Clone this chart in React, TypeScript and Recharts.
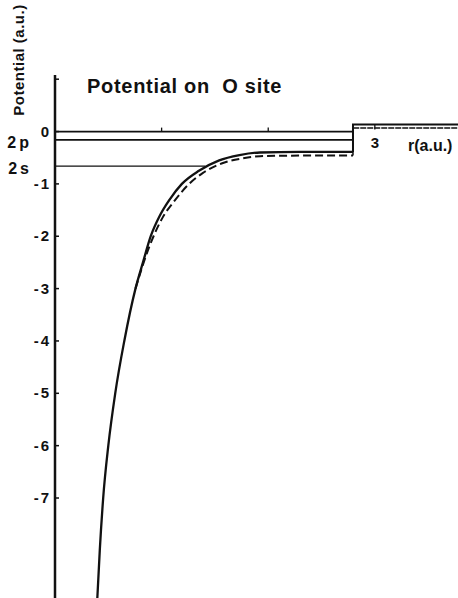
import React from "react";
import { LineChart, Line, XAxis, YAxis, ReferenceLine } from "recharts";

// r in a.u., potential in a.u.
const solidR = [0.397, 0.42, 0.452, 0.5, 0.565, 0.65, 0.755, 0.825, 0.898, 0.985, 1.075, 1.19, 1.35, 1.54, 1.73, 1.923, 2.298, 2.795];
const solidV = [-8.91, -8.0, -7.0, -6.0, -5.0, -4.0, -3.0, -2.5, -2.0, -1.6, -1.3, -1.0, -0.75, -0.55, -0.45, -0.4, -0.39, -0.39];

const dashedR = [0.755, 0.832, 0.91, 1.013, 1.126, 1.248, 1.388, 1.576, 1.764, 1.923, 2.3, 2.795];
const dashedV = [-3.0, -2.5, -2.07, -1.63, -1.31, -1.02, -0.79, -0.6, -0.51, -0.47, -0.46, -0.46];

const sphereRadius = 2.795;
const rMax = 3.78;
const interstitialSolid = 0.135;
const interstitialDashed = 0.07;

const levelNames = ["2p", "2s"];
const levelValues = [-0.16, -0.66];
const levelEnds = [2.795, 1.41];

const yTicks = [1, 0, -1, -2, -3, -4, -5, -6, -7];
const yLabels = ["", "0", "-1", "-2", "-3", "-4", "-5", "-6", "-7"];
const xTicks = [1, 2, 3];
const xLabels = ["", "", "3"];

const zip = (rs: number[], vs: number[]) => rs.map((r, i) => ({ r, v: vs[i] }));

const solidData = zip(solidR, solidV);
const dashedData = zip(dashedR, dashedV);
const solidStep = [
   { r: sphereRadius, v: solidV[solidV.length - 1] },
   { r: sphereRadius, v: interstitialSolid },
   { r: rMax, v: interstitialSolid },
];
const dashedStep = [
   { r: sphereRadius, v: dashedV[dashedV.length - 1] },
   { r: sphereRadius, v: interstitialDashed },
   { r: rMax, v: interstitialDashed },
];

const INK = "#111";
const FONT = "'Liberation Sans', Arial, sans-serif";

const YTick = (props: any) => {
   const { x, y, payload } = props;
   const idx = yTicks.indexOf(payload.value);
   return (
      <g>
         <line x1={x + 4} x2={x + 8} y1={y} y2={y} stroke={INK} strokeWidth={1.5} />
         <text
            x={x}
            y={y}
            dy={5}
            textAnchor="end"
            fontFamily={FONT}
            fontWeight="bold"
            fontSize={15}
            letterSpacing={2}
            fill={INK}
         >
            {yLabels[idx]}
         </text>
      </g>
   );
};

const levelLabel = (name: string) => (props: any) => {
   const vb = props.viewBox || {};
   return (
      <text
         x={vb.x - 23}
         y={vb.y + 8}
         textAnchor="end"
         fontFamily={FONT}
         fontWeight="bold"
         fontSize={16}
         letterSpacing={3}
         fill={INK}
      >
         {name}
      </text>
   );
};

export default function App() {
   return (
      <div style={{ position: "absolute", left: 0, top: 0, width: 458, height: 598, background: "#fff" }}>
         <LineChart
            width={458}
            height={598}
            margin={{ top: 75, right: 0, bottom: 0, left: 0 }}
         >
            <XAxis type="number" dataKey="r" domain={[0, rMax]} hide allowDataOverflow />
            <YAxis
               type="number"
               dataKey="v"
               width={55}
               domain={[-8.91, 1.08]}
               ticks={yTicks}
               interval={0}
               tickSize={4}
               tickMargin={0}
               tickLine={false}
               tick={<YTick />}
               axisLine={{ stroke: INK, strokeWidth: 2.5 }}
               allowDataOverflow
            />
            <ReferenceLine
               segment={[{ x: 0, y: 0 }, { x: sphereRadius, y: 0 }]}
               stroke={INK}
               strokeWidth={1.8}
            />
            {levelNames.map((name, i) => (
               <ReferenceLine
                  key={name}
                  segment={[{ x: 0, y: levelValues[i] }, { x: levelEnds[i], y: levelValues[i] }]}
                  stroke={INK}
                  strokeWidth={i === 0 ? 1.6 : 1.2}
                  label={levelLabel(name)}
               />
            ))}
            {xTicks.map((t, i) =>
               t < sphereRadius ? (
                  <ReferenceLine
                     key={t}
                     segment={[{ x: t, y: 0 }, { x: t, y: 0.075 }]}
                     stroke={INK}
                     strokeWidth={1.3}
                  />
               ) : (
                  <ReferenceLine
                     key={t}
                     segment={[{ x: t, y: interstitialSolid }, { x: t, y: 0.04 }]}
                     stroke={INK}
                     strokeWidth={1.3}
                     label={{
                        value: xLabels[i],
                        position: "bottom",
                        offset: 8,
                        fill: INK,
                        fontSize: 15,
                        fontWeight: "bold",
                        fontFamily: FONT,
                     }}
                  />
               )
            )}
            <Line
               data={solidData}
               dataKey="v"
               type="monotone"
               stroke={INK}
               strokeWidth={2.3}
               dot={false}
               isAnimationActive={false}
            />
            <Line
               data={dashedData}
               dataKey="v"
               type="monotone"
               stroke={INK}
               strokeWidth={2}
               strokeDasharray="8 4"
               dot={false}
               isAnimationActive={false}
            />
            <Line
               data={solidStep}
               dataKey="v"
               type="linear"
               stroke={INK}
               strokeWidth={2}
               dot={false}
               isAnimationActive={false}
            />
            <Line
               data={dashedStep}
               dataKey="v"
               type="linear"
               stroke={INK}
               strokeWidth={1.5}
               strokeDasharray="6 1"
               dot={false}
               isAnimationActive={false}
            />
         </LineChart>
         <svg
            width={458}
            height={598}
            style={{ position: "absolute", left: 0, top: 0, pointerEvents: "none" }}
         >
            <text
               x={87}
               y={93}
               fontFamily={FONT}
               fontWeight="bold"
               fontSize={20}
               letterSpacing={0.7}
               fill={INK}
               xmlSpace="preserve"
            >
               Potential on  O site
            </text>
            <text
               transform="translate(24,60) rotate(-90)"
               textAnchor="middle"
               fontFamily={FONT}
               fontWeight="bold"
               fontSize={15}
               letterSpacing={0.5}
               fill={INK}
            >
               Potential (a.u.)
            </text>
            <text
               x={408}
               y={151}
               fontFamily={FONT}
               fontWeight="bold"
               fontSize={16}
               fill={INK}
            >
               r(a.u.)
            </text>
         </svg>
      </div>
   );
}
